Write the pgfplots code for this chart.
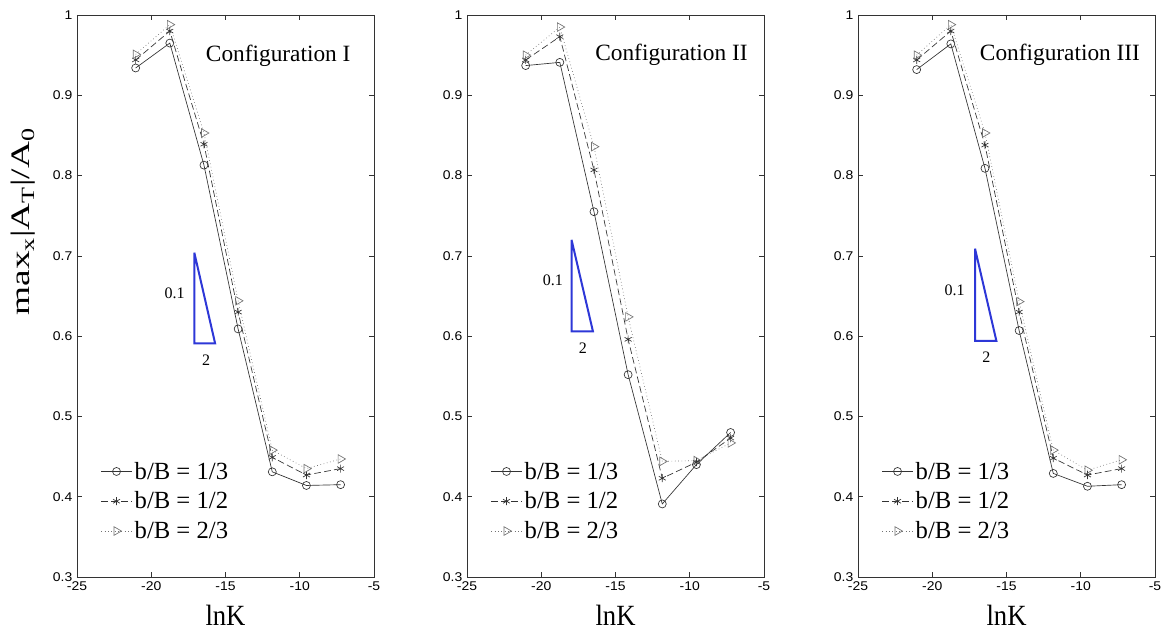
\documentclass[border=0pt]{standalone}
\usepackage{fontspec}
\setmainfont{Liberation Serif}
\newfontfamily\arialfont[FakeStretch=1.1]{Liberation Sans}
\newfontfamily\ylabfont[FakeStretch=1.4]{Liberation Serif}
\usepackage{graphicx}
\usepackage{pgfplots}
\usepackage{pgfplotstable}
\pgfplotsset{compat=1.18}

\definecolor{slopeblue}{RGB}{45,55,215}

% x = lnK, c: b/B=1/3, s: b/B=1/2, t: b/B=2/3
\pgfplotstableread{
x      c     s     t
-21.05 0.934 0.944 0.951
-18.75 0.965 0.980 0.988
-16.45 0.813 0.839 0.853
-14.15 0.609 0.630 0.644
-11.85 0.431 0.449 0.458
-9.55  0.414 0.427 0.435
-7.25  0.415 0.435 0.447
}\confI
\pgfplotstableread{
x      c     s     t
-21.05 0.937 0.944 0.950
-18.75 0.941 0.973 0.985
-16.45 0.755 0.807 0.836
-14.15 0.552 0.596 0.624
-11.85 0.391 0.423 0.444
-9.55  0.440 0.443 0.445
-7.25  0.480 0.473 0.467
}\confII
\pgfplotstableread{
x      c     s     t
-21.05 0.932 0.944 0.950
-18.75 0.964 0.980 0.988
-16.45 0.809 0.838 0.853
-14.15 0.607 0.630 0.643
-11.85 0.429 0.448 0.458
-9.55  0.413 0.427 0.433
-7.25  0.415 0.435 0.446
}\confIII

\pgfplotsset{
  panel/.style={
    scale only axis, width=222.75pt, height=421.5pt,
    xmin=-25, xmax=-5, ymin=0.3, ymax=1,
    xtick={-25,-20,-15,-10,-5},
    ytick={0.3,0.4,0.5,0.6,0.7,0.8,0.9,1},
    tick align=inside, major tick length=4pt,
    axis line style={black!80, line width=0.5pt},
    tick style={black!80, line width=0.5pt},
    /pgf/number format/assume math mode=true,
    tick label style={font=\arialfont\fontsize{9.5}{10}\selectfont},
    yticklabel style={/pgf/number format/fixed, /pgf/number format/precision=1},
    xlabel={\scalebox{1}[1.1]{lnK}},
    xlabel style={font=\rmfamily\fontsize{20}{22}\selectfont, at={(axis description cs:0.5,-0.068)}, anchor=center},
    legend style={draw=none, fill=none, inner sep=0pt,
      font=\rmfamily\fontsize{18.5}{20}\selectfont,
      at={(axis description cs:0.08,0.21)}, anchor=north west,
      row sep=4pt,
      /tikz/every even column/.append style={column sep=2pt}},
    legend cell align=left,
    legend image code/.code={\draw[mark repeat=2,mark phase=2] plot coordinates {(0cm,0cm) (0.4cm,0cm) (0.8cm,0cm)};},
  },
  sc/.style={black!80, line width=0.5pt, mark=o, mark size=3pt, mark options={solid}},
  ss/.style={black!80, line width=0.5pt, dash pattern=on 5pt off 2.5pt, mark=asterisk, mark size=3pt, mark options={solid}},
  st/.style={black!55, line width=0.5pt, dotted, mark=triangle, mark size=3.7pt, mark options={solid, rotate=-90}},
  slope/.style={slopeblue, line width=1.5pt, no marks, forget plot},
}

\begin{document}
\begin{tikzpicture}
\useasboundingbox (0,0) rectangle (872.25pt,473.25pt);

\begin{axis}[panel, at={(57.75pt,40.5pt)}, anchor=south west,
  ylabel={max\textsubscript{x}|A\textsubscript{T}|/A\textsubscript{0}},
  ylabel style={font=\ylabfont\fontsize{20}{22}\selectfont, at={(axis description cs:-0.18,0.632)}, anchor=center}]
\addplot[sc] table[x=x,y=c] {\confI}; \addlegendentry{b/B = 1/3}
\addplot[ss] table[x=x,y=s] {\confI}; \addlegendentry{b/B = 1/2}
\addplot[st] table[x=x,y=t] {\confI}; \addlegendentry{b/B = 2/3}
\addplot[slope] coordinates {(-17.1,0.704) (-17.1,0.591) (-15.7,0.591) (-17.1,0.704)};
\node[font=\fontsize{12}{14}\selectfont] at (axis cs:-18.43,0.653) {0.1};
\node[font=\fontsize{12}{14}\selectfont] at (axis cs:-16.31,0.570) {2};
\node[font=\fontsize{17.5}{20}\selectfont] at (axis cs:-11.45,0.949) {Configuration I};
\end{axis}

\begin{axis}[panel, at={(350.25pt,40.5pt)}, anchor=south west]
\addplot[sc] table[x=x,y=c] {\confII}; \addlegendentry{b/B = 1/3}
\addplot[ss] table[x=x,y=s] {\confII}; \addlegendentry{b/B = 1/2}
\addplot[st] table[x=x,y=t] {\confII}; \addlegendentry{b/B = 2/3}
\addplot[slope] coordinates {(-17.96,0.720) (-17.96,0.606) (-16.52,0.606) (-17.96,0.720)};
\node[font=\fontsize{12}{14}\selectfont] at (axis cs:-19.22,0.670) {0.1};
\node[font=\fontsize{12}{14}\selectfont] at (axis cs:-17.19,0.585) {2};
\node[font=\fontsize{17.5}{20}\selectfont] at (axis cs:-11.23,0.950) {Configuration II};
\end{axis}

\begin{axis}[panel, at={(643.5pt,40.5pt)}, anchor=south west]
\addplot[sc] table[x=x,y=c] {\confIII}; \addlegendentry{b/B = 1/3}
\addplot[ss] table[x=x,y=s] {\confIII}; \addlegendentry{b/B = 1/2}
\addplot[st] table[x=x,y=t] {\confIII}; \addlegendentry{b/B = 2/3}
\addplot[slope] coordinates {(-17.12,0.709) (-17.12,0.594) (-15.68,0.594) (-17.12,0.709)};
\node[font=\fontsize{12}{14}\selectfont] at (axis cs:-18.49,0.657) {0.1};
\node[font=\fontsize{12}{14}\selectfont] at (axis cs:-16.35,0.574) {2};
\node[font=\fontsize{17.5}{20}\selectfont] at (axis cs:-11.40,0.950) {Configuration III};
\end{axis}
\end{tikzpicture}
\end{document}
